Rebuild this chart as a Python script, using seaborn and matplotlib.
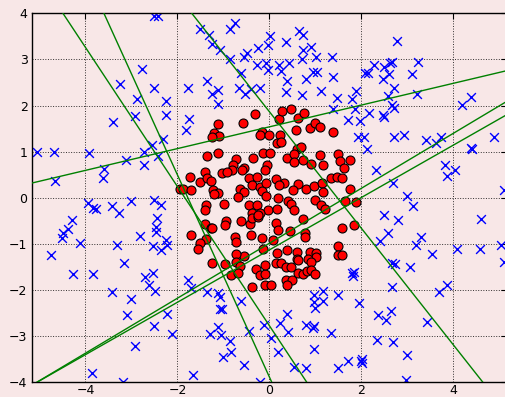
import matplotlib
matplotlib.use("Agg")
import matplotlib.pyplot as plt
import seaborn as sns

# Class 1: points inside the ring (red circles)
inner_x = [-1.13, -1.20, -1.10, -1.24, -0.57, -0.32, -0.17, -0.20, -0.01, 0.22, 0.20, 0.28, 0.47, 0.62, 0.76,
           0.57, 0.89, 1.00, 1.09, 1.38,
           0.17, 0.26, 0.60, 0.68, -1.36, -1.12, -0.73, -0.79, -0.81, -0.55, -0.36, -0.14, 0.01, -0.05, -0.10,
           0.38, 0.53, 0.53, 0.73, 0.90, 1.09, 1.17, 1.33, 1.46,
           1.48, 1.53, 1.75, 1.62, 1.57, 1.75, 1.64, 1.88, 1.57, 1.84, 1.48, 1.50, 1.57,
           -1.95, -1.88, -1.73, -1.70, -1.52, -1.41, -1.36, -1.28, -1.04, -0.93, -1.23, -1.12, -1.21, -0.59,
           -0.44, -0.28, -0.65, -0.55, -0.68, -0.44, -0.27, -0.37, -1.38, -1.41, -0.99, -0.95, -0.97, -1.41,
           -1.28, -1.24, -0.62, -0.43, -0.39, -0.25, -0.41, -1.71, -1.37, -1.50, -1.55, -0.74, -0.72, -0.55,
           -0.73,
           -0.39, -0.21, -0.17, -0.07, 0.15, 0.32, 0.21, 0.61, 0.51, 0.80, 0.96, 1.15, 1.17, -0.07, 0.19,
           0.40, 0.46, 0.53, 0.98, 1.13, 1.20, -0.03, -0.21, -0.26, 0.17, 0.14, 0.19, 0.44, 0.77, 0.77, 0.73,
           -0.17, -0.14, 0.08, 0.37, 0.17, 0.60, 0.59, 0.88, 1.01, 1.02, -0.72, 0.84, 0.91,
           -1.25, -0.97, -0.64, -0.83, -0.68, -0.37, -0.30, -0.21, -0.09, -0.09, -0.10, 0.04, 0.14, 0.25,
           0.35, 0.46, 0.62, 0.35, 0.49, 0.38, 0.62, 0.72, 0.82, 0.91, 1.00]
inner_y = [1.61, 1.41, 1.34, 1.31, 1.63, 1.82, 1.42, 1.36, 1.36, 1.36, 1.71, 1.89, 1.92, 1.74, 1.83,
           1.47, 1.52, 1.63, 1.54, 1.43,
           1.18, 1.21, 1.06, 1.11, 0.90, 0.98, 0.84, 0.72, 0.60, 0.64, 0.87, 0.98, 0.98, 0.72, 0.60,
           0.87, 0.95, 0.77, 0.83, 0.73, 0.93, 0.71, 0.44, 0.46,
           0.95, 0.80, 0.83, 0.64, 0.42, 0.20, -0.07, -0.10, -0.65, -0.58, -1.05, -1.24, -1.24,
           0.20, 0.19, 0.46, 0.17, 0.35, 0.56, 0.42, 0.37, 0.54, 0.56, 0.17, 0.10, 0.08, 0.60,
           0.44, 0.46, 0.19, 0.12, 0.01, -0.16, -0.16, -0.34, -0.16, -0.27, -0.14, -0.50, -0.58, -0.57,
           -0.65, -0.66, -0.50, -0.57, -0.43, -0.41, -0.81, -0.81, -0.90, -0.99, -1.10, -0.85, -0.95, -1.26,
           -1.22,
           0.27, 0.24, 0.15, 0.33, 0.40, 0.33, 0.28, 0.29, 0.17, 0.19, 0.26, 0.33, 0.12, 0.04, -0.01,
           -0.07, -0.14, -0.27, -0.05, -0.16, -0.25, -0.27, -0.34, -0.38, -0.25, -0.54, -0.70, -0.72, -0.76, -0.85, -0.45,
           -0.87, -1.10, -0.92, -1.13, -1.19, -1.17, -1.33, -1.18, -1.19, -1.28, -1.39, -1.33, -1.39,
           -1.41, -1.44, -1.48, -1.68, -1.64, -1.93, -1.55, -1.68, -1.66, -1.46, -1.88, -1.88, -1.42, -1.41,
           -1.50, -1.51, -1.35, -1.79, -1.79, -1.88, -1.64, -1.66, -1.59, -1.57, -1.66]

# Class 2: points outside the ring (blue crosses)
outer_x = [-2.52, -2.43, -2.77, -3.24, -2.51, -2.89, -2.25, -2.92, -2.25, -3.40, -2.31,
           -1.52, -1.31, -0.86, -0.75, -1.25, -1.08, 0.01, -0.03, -0.25, -0.49, -0.56, -0.85, 0.35, 0.64,
           0.72, 0.90, 0.72, 0.71, 1.02, 1.36, -0.07, -0.04, -0.28, 0.20, 0.43, 0.26, -0.62, 0.95, 1.04,
           0.80, 1.38, 0.39, -1.36, -1.77, -1.12, -1.25, -0.66, -0.54, -0.41, -0.21, 0.35, 0.70, 1.12,
           1.47, -1.13, 1.37, -1.74, -1.82,
           2.78, 2.66, 2.62, 2.27, 2.48, 3.22, 2.07, 2.14, 2.60, 2.46, 3.10, 1.88, 1.80, 2.70, 2.57, 3.20,
           2.67, 2.70, 1.85, 2.17, 2.49, 2.46, 1.70, 1.97, 4.18, 4.39, 1.93, 2.05, 2.70, 2.93, 3.40, 3.72,
           4.87,
           3.62, 4.38, 4.40, 2.11, 2.31, 2.69, 3.81, 3.85, 4.03, 5.09, 2.98, 3.12, 2.48, 2.80, 4.59, 2.58,
           2.40, 3.29, 3.18, 3.54, 4.07, 4.57, 5.04,
           -5.05, -4.68, -3.92, -4.67, -3.60, -3.62, -3.11, -2.73, -2.73, -2.55, -2.43, -3.94, -3.83, -3.78,
           -3.42, -3.27, -3.02, -2.52, -2.36, -2.44, -2.46, -2.47, -4.30, -4.38, -4.49, -4.50, -4.12, -2.82,
           -3.31, -2.53, -2.35, -2.24, -2.23, -4.74, -3.16,
           -4.28, -3.83, -2.71, -2.53, -2.62, -2.48, -3.43, -3.00, -3.10, -2.22, -2.52, -2.93, -3.86, -3.19,
           -1.77, -1.70, -1.35, -1.12, -1.07, -1.08, -1.03, -0.62, -1.11, -1.30, -1.06, -0.86, -2.12,
           -0.45, -0.12, 0.03, 0.22, 0.38, 0.40, -0.84, -1.02, -0.56, -1.66, -0.21, 0.18, 0.53, 0.80, 0.96,
           0.80, 0.95, 0.97, 1.33, 0.96, 1.17, 0.96, 1.00, 1.17, 1.48, 1.48,
           2.67, 2.73, 3.06, 1.80, 1.84, 1.82, 5.09, 2.66, 1.95, 3.69, 3.85, 2.35, 2.53, 2.65, 3.42, 2.33,
           2.69, 2.98, 1.70, 2.01, 2.02, 1.99, 2.96]
outer_y = [3.95, 3.94, 2.79, 2.46, 2.39, 2.15, 2.09, 1.77, 1.80, 1.64, 1.27,
           3.65, 3.54, 3.65, 3.80, 3.33, 3.20, 3.51, 3.31, 3.25, 3.15, 3.05, 3.02, 3.37, 3.62,
           3.53, 3.28, 3.20, 3.01, 3.05, 3.05, 2.93, 2.77, 2.87, 2.87, 2.92, 2.75, 2.70, 2.73, 2.73,
           2.57, 2.62, 2.54, 2.53, 2.37, 2.34, 2.24, 2.39, 2.26, 2.36, 2.39, 2.30, 2.23, 2.32,
           2.16, 2.03, 1.92, 1.70, 1.48,
           3.41, 2.94, 2.92, 2.87, 2.84, 2.94, 2.70, 2.70, 2.68, 2.57, 2.68, 2.32, 2.15, 2.38, 2.21, 2.26,
           2.01, 1.94, 1.92, 1.83, 1.76, 1.79, 1.69, 1.67, 2.01, 2.19, 1.32, 1.32, 1.32, 1.36, 1.25, 1.32,
           1.32,
           1.18, 1.08, 1.06, 1.05, 0.60, 0.33, 0.72, 0.47, 0.60, 0.17, 0.04, -0.17, -0.38, -0.48, -0.45, -0.76,
           -0.94, -0.85, -1.03, -1.21, -1.11, -1.11, -1.03,
           1.00, 1.00, 0.98, 0.36, 0.62, 0.44, 0.82, 1.00, 0.72, 1.14, 0.90, -0.11, -0.23, -0.25,
           -0.18, -0.33, -0.07, -0.05, -0.16, -0.43, -0.63, -0.74, -0.48, -0.68, -0.77, -0.88, -0.97, -0.83,
           -1.03, -1.05, -1.13, -0.92, -1.03, -1.24, -1.42,
           -1.65, -1.65, -1.71, -1.64, -1.89, -2.02, -2.05, -2.20, -2.54, -2.52, -2.78, -3.22, -3.80, -3.99,
           -1.79, -1.95, -2.05, -2.07, -2.16, -2.40, -2.41, -2.24, -2.80, -2.96, -2.98, -3.11, -2.96,
           -2.89, -2.75, -3.05, -2.71, -2.51, -2.91, -3.35, -3.45, -3.63, -3.85, -3.99, -3.35, -3.67, -3.70, -3.28,
           -2.76, -2.83, -2.78, -2.93, -2.11, -2.02, -2.26, -2.39, -2.23, -2.11, -3.70,
           -1.42, -1.44, -1.50, -1.64, -1.61, -1.70, -1.39, -1.93, -2.28, -2.05, -1.88, -2.54, -2.65, -2.45, -2.70, -3.09,
           -3.12, -3.40, -3.54, -3.50, -3.58, -3.54, -3.94]

# Linear decision boundaries y = slope * x + intercept
line_slopes = [-1.509, -2.192, -1.264, 0.236, 0.596, 0.568]
line_intercepts = [-2.776, -3.890, 1.864, 1.539, -0.984, -1.128]

x_ticks = [-4, -2, 0, 2, 4]
y_ticks = [-4, -3, -2, -1, 0, 1, 2, 3, 4]

bg = "#f8e7e7"
sns.set_style("white")
plt.rcParams["font.family"] = ["DejaVu Sans"]

fig = plt.figure(figsize=(5.06, 3.97), dpi=100, facecolor=bg)
ax = fig.add_axes([0.0626, 0.037, 0.94, 0.9295])
ax.set_facecolor(bg)

sns.scatterplot(x=outer_x, y=outer_y, marker="x", color="blue", s=40, linewidth=1.0, ax=ax, zorder=2)
sns.scatterplot(x=inner_x, y=inner_y, marker="o", color="red", edgecolor="black", s=42, linewidth=0.8,
                ax=ax, zorder=2)

for m, b in zip(line_slopes, line_intercepts):
    ax.axline((0, b), slope=m, color="green", linewidth=1.0, zorder=3)

ax.set_xlim(-5.17, 5.17)
ax.set_ylim(-4, 4)
ax.set_xticks(x_ticks)
ax.set_yticks(y_ticks)
ax.grid(True, linestyle=":", color="black", linewidth=0.7, alpha=0.8)
ax.set_axisbelow(True)
ax.tick_params(direction="in", top=True, right=True, length=4, width=0.8, labelsize=9,
               colors="black", pad=3)
ax.tick_params(axis="x", pad=1)
for sp in ax.spines.values():
    sp.set_visible(True)
    sp.set_color("black")
    sp.set_linewidth(1.0)

fig.savefig("out.png", dpi=100, facecolor=bg)
